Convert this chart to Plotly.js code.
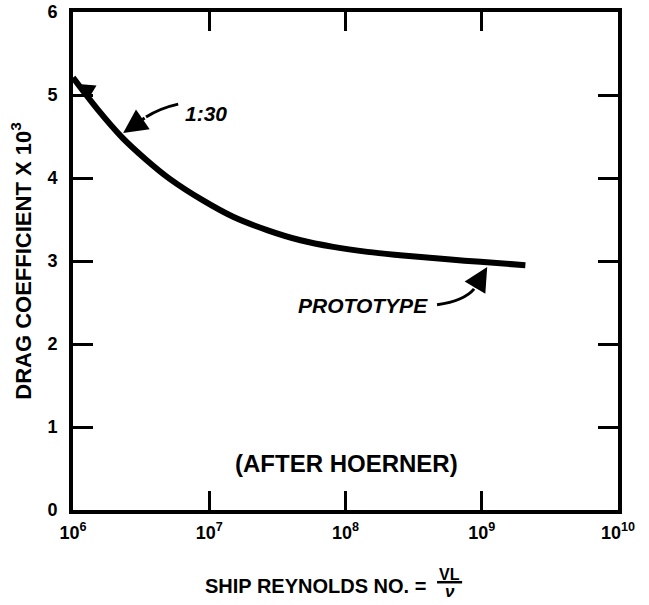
<!DOCTYPE html>
<html>
<head>
<meta charset="utf-8">
<script src="https://cdn.plot.ly/plotly-3.0.1.min.js"></script>
<style>
  html, body { margin: 0; padding: 0; background: #fff; }
  #chart { width: 649px; height: 605px; }
</style>
</head>
<body>
<div id="chart"></div>
<script>
// Ship Reynolds number (VL/nu) and drag coefficient x 10^3
const reynolds = [1.0e6, 1.51e6, 2.29e6, 3.39e6, 5.13e6, 9.0e6, 1.51e7, 2.69e7, 4.68e7, 8.13e7, 1.45e8, 2.51e8, 5.62e8, 9.77e8, 2.09e9];
const dragCoeff = [5.21, 4.83, 4.49, 4.23, 3.99, 3.73, 3.53, 3.37, 3.25, 3.17, 3.11, 3.07, 3.02, 2.99, 2.95];

const xTickVals = [1e6, 1e7, 1e8, 1e9, 1e10];
const xTickText = ['10<sup>6</sup>', '10<sup>7</sup>', '10<sup>8</sup>', '10<sup>9</sup>', '10<sup>10</sup>'];
const yTickVals = [0, 1, 2, 3, 4, 5, 6];
const yTickText = ['0', '1', '2', '3', '4', '5', '6'];

const FONT = '"Liberation Sans", Arial, Helvetica, sans-serif';

const trace = {
  x: reynolds,
  y: dragCoeff,
  type: 'scatter',
  mode: 'lines',
  line: { color: '#000', width: 6, shape: 'spline', smoothing: 1 },
  hoverinfo: 'x+y',
  showlegend: false
};

const layout = {
  width: 649,
  height: 605,
  margin: { l: 73, r: 31, t: 12, b: 95 },
  paper_bgcolor: '#fff',
  plot_bgcolor: '#fff',
  font: { family: FONT, color: '#000', size: 17, weight: 'bold' },
  showlegend: false,
  xaxis: {
    type: 'log',
    range: [6, 10],
    tickvals: xTickVals,
    ticktext: xTickText,
    ticks: 'inside',
    ticklen: 19,
    tickwidth: 3,
    tickcolor: '#000',
    showline: true,
    linewidth: 4,
    linecolor: '#000',
    mirror: 'ticks',
    showgrid: false,
    zeroline: false,
    ticklabelstandoff: 3,
    tickfont: { family: FONT, size: 18, weight: 'bold', color: '#000' },
    title: { text: '' }
  },
  yaxis: {
    range: [0, 6],
    tickvals: yTickVals,
    ticktext: yTickText,
    ticks: 'inside',
    ticklen: 20,
    tickwidth: 3,
    tickcolor: '#000',
    showline: true,
    linewidth: 4,
    linecolor: '#000',
    mirror: 'ticks',
    showgrid: false,
    zeroline: false,
    ticklabelstandoff: 8,
    tickfont: { family: FONT, size: 18, weight: 'bold', color: '#000' },
    title: {
      text: 'DRAG COEFFICIENT X 10<sup>3</sup>',
      font: { family: FONT, size: 22, weight: 'bold', color: '#000' },
      standoff: 11
    }
  },
  shapes: [
    // tail of the "1:30" arrow
    { type: 'path', xref: 'paper', yref: 'paper',
      path: 'M 0.193 0.815 Q 0.160 0.807 0.134 0.789',
      line: { color: '#000', width: 3 } },
    // tail of the "PROTOTYPE" arrow
    { type: 'path', xref: 'paper', yref: 'paper',
      path: 'M 0.668 0.412 Q 0.718 0.420 0.736 0.444',
      line: { color: '#000', width: 3 } },
    // fraction bar of VL / nu
    { type: 'line', xref: 'paper', yref: 'paper',
      x0: 0.668, x1: 0.714, y0: -0.145, y1: -0.145,
      line: { color: '#000', width: 2.5 } }
  ],
  annotations: [
    { xref: 'paper', yref: 'paper', x: 0.202, y: 0.797, xanchor: 'left', yanchor: 'middle',
      text: '1:30', showarrow: false,
      font: { family: FONT, size: 21, weight: 'bold', style: 'italic', color: '#000' } },
    { xref: 'paper', yref: 'paper', x: 0.092, y: 0.757, text: '',
      showarrow: true, arrowhead: 2, arrowsize: 1.6, arrowwidth: 3, arrowcolor: '#000',
      ax: 23, ay: -16, standoff: 0 },
    { xref: 'paper', yref: 'paper', x: 0.015, y: 0.855, text: '',
      showarrow: true, arrowhead: 2, arrowsize: 1.1, arrowwidth: 2.5, arrowcolor: '#000',
      ax: 10, ay: 6, standoff: 0 },
    { xref: 'paper', yref: 'paper', x: 0.655, y: 0.410, xanchor: 'right', yanchor: 'middle',
      text: 'PROTOTYPE', showarrow: false,
      font: { family: FONT, size: 21, weight: 'bold', style: 'italic', color: '#000' } },
    { xref: 'paper', yref: 'paper', x: 0.760, y: 0.488, text: '',
      showarrow: true, arrowhead: 2, arrowsize: 1.6, arrowwidth: 3, arrowcolor: '#000',
      ax: -13, ay: 22, standoff: 0 },
    { xref: 'paper', yref: 'paper', x: 0.294, y: 0.094, xanchor: 'left', yanchor: 'middle',
      text: '(AFTER HOERNER)', showarrow: false,
      font: { family: FONT, size: 24, weight: 'bold', color: '#000' } },
    // x-axis title, drawn as annotations so the VL/ν fraction can be stacked
    { xref: 'paper', yref: 'paper', x: 0.2385, y: -0.153, xanchor: 'left', yanchor: 'middle',
      text: 'SHIP REYNOLDS NO. =', showarrow: false,
      font: { family: FONT, size: 20, weight: 'bold', color: '#000' } },
    { xref: 'paper', yref: 'paper', x: 0.691, y: -0.130, xanchor: 'center', yanchor: 'middle',
      text: 'VL', showarrow: false,
      font: { family: FONT, size: 16, weight: 'bold', color: '#000' } },
    { xref: 'paper', yref: 'paper', x: 0.691, y: -0.163, xanchor: 'center', yanchor: 'middle',
      text: 'ν', showarrow: false,
      font: { family: FONT, size: 17, weight: 'bold', style: 'italic', color: '#000' } }
  ]
};

Plotly.newPlot('chart', [trace], layout, { displayModeBar: false, staticPlot: true });
</script>
</body>
</html>
